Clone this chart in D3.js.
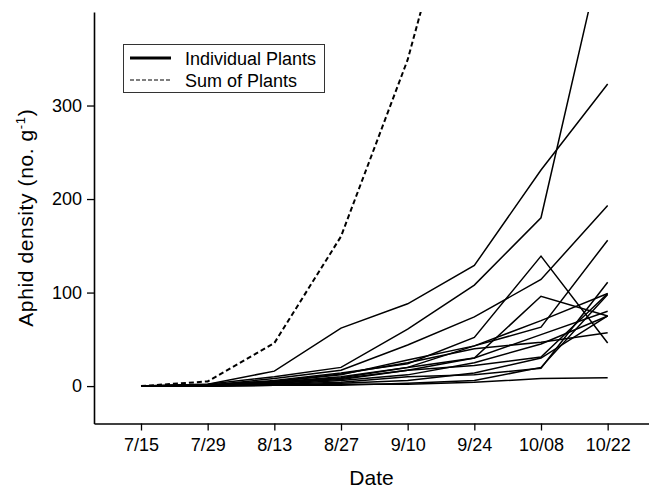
<!DOCTYPE html>
<html>
<head>
<meta charset="utf-8">
<script src="https://cdn.jsdelivr.net/npm/d3@7"></script>
<style>
  body { margin: 0; background: #fff; }
  text { font-family: "Liberation Sans", Arial, Helvetica, sans-serif; }
</style>
</head>
<body>
<div id="chart"></div>
<script>
// dates sampled
const dates = ["7/15", "7/29", "8/13", "8/27", "9/10", "9/24", "10/08", "10/22"];

// aphid density of each plant (no. per g), one array per plant
const plant01 = [0, 2, 10, 20, 61, 108, 180, 490];
const plant02 = [0, 2, 16, 62, 88, 129, 231, 323];
const plant03 = [0, 1, 8, 17, 44, 74, 114, 193];
const plant04 = [0, 1, 5, 12, 28, 43, 63, 156];
const plant05 = [0, 1, 6, 14, 24, 52, 139, 46];
const plant06 = [0, 1, 4, 9, 20, 30, 96, 75];
const plant07 = [0, 0, 2, 4, 10, 12, 19, 111];
const plant08 = [0, 1, 3, 7, 17, 22, 31, 99];
const plant09 = [0, 1, 4, 10, 20, 43, 70, 99];
const plant10 = [0, 0, 3, 8, 17, 30, 55, 80];
const plant11 = [0, 0, 2, 6, 12, 25, 45, 75];
const plant12 = [0, 1, 5, 13, 25, 40, 47, 57];
const plant13 = [0, 0, 1, 2, 2, 4, 8, 9];
const plant14 = [0, 0, 1, 1, 3, 6, 20, 98];
const plant15 = [0, 0, 1, 3, 6, 14, 30, 75];

// sum of plants (runs off the top after 9/10)
const sumOfPlants = [0, 5, 46, 160, 349, 610];

const yTicks = [0, 100, 200, 300];

const plants = [plant01, plant02, plant03, plant04, plant05, plant06, plant07, plant08,
  plant09, plant10, plant11, plant12, plant13, plant14, plant15];

const width = 649;
const height = 489;
const mLeft = 94, mRight = 649, mTop = 12, mBottom = 423.5;

const svg = d3.select("#chart")
  .append("svg")
    .attr("width", width)
    .attr("height", height);

const x = d3.scaleLinear()
  .domain([-0.705, 7.62])
  .range([mLeft, mRight]);

const y = d3.scaleLinear()
  .domain([-40, 400])
  .range([mBottom, mTop]);

svg.append("clipPath")
    .attr("id", "plotclip")
  .append("rect")
    .attr("x", mLeft)
    .attr("y", mTop)
    .attr("width", mRight - mLeft)
    .attr("height", mBottom - mTop);

const line = d3.line()
  .x((d, i) => x(i))
  .y(d => y(d));

const plot = svg.append("g").attr("clip-path", "url(#plotclip)");

// individual plants
plot.selectAll("path.plant")
  .data(plants)
  .join("path")
    .attr("class", "plant")
    .attr("d", line)
    .attr("fill", "none")
    .attr("stroke", "#000")
    .attr("stroke-width", 1.5)
    .attr("stroke-linejoin", "miter");

// sum of plants
plot.append("path")
  .datum(sumOfPlants)
    .attr("d", line)
    .attr("fill", "none")
    .attr("stroke", "#000")
    .attr("stroke-width", 2)
    .attr("stroke-dasharray", "5,3");

// axes
const xAxis = d3.axisBottom(x)
  .tickValues(d3.range(dates.length))
  .tickFormat(i => dates[i])
  .tickSizeInner(7)
  .tickSizeOuter(0)
  .tickPadding(8);

const yAxis = d3.axisLeft(y)
  .tickValues(yTicks)
  .tickSizeInner(7)
  .tickSizeOuter(0)
  .tickPadding(5);

const gx = svg.append("g")
  .attr("transform", `translate(0,${mBottom})`)
  .call(xAxis);

const gy = svg.append("g")
  .attr("transform", `translate(${mLeft},0)`)
  .call(yAxis);

[gx, gy].forEach(g => {
  g.select(".domain").attr("stroke", "#000").attr("stroke-width", 1.6);
  g.selectAll(".tick line").attr("stroke", "#000").attr("stroke-width", 1.3);
  g.selectAll(".tick text")
    .attr("fill", "#000")
    .style("font-size", "18px")
    .style("font-family", "'Liberation Sans', Arial, sans-serif");
});

// axis titles
svg.append("text")
  .attr("x", (mLeft + mRight) / 2)
  .attr("y", 485)
  .attr("text-anchor", "middle")
  .style("font-size", "21px")
  .text("Date");

const ylab = svg.append("text")
  .attr("transform", `translate(33,${(mTop + mBottom) / 2}) rotate(-90)`)
  .attr("text-anchor", "middle")
  .style("font-size", "21px")
  .style("letter-spacing", "0.6px");
ylab.append("tspan").text("Aphid density (no. g");
ylab.append("tspan").attr("dy", -8).style("font-size", "13px").text("-1");
ylab.append("tspan").attr("dy", 8).text(")");

// legend
const legend = svg.append("g");
legend.append("rect")
  .attr("x", 123.5)
  .attr("y", 44.5)
  .attr("width", 201)
  .attr("height", 48)
  .attr("fill", "#fff")
  .attr("stroke", "#333")
  .attr("stroke-width", 1);

const legendItems = [
  { label: "Individual Plants", width: 3.2, dash: null, cy: 58 },
  { label: "Sum of Plants", width: 1.2, dash: "4,2", cy: 80 }
];

legendItems.forEach(d => {
  legend.append("line")
    .attr("x1", 130).attr("x2", 171)
    .attr("y1", d.cy).attr("y2", d.cy)
    .attr("stroke", "#000")
    .attr("stroke-width", d.width)
    .attr("stroke-dasharray", d.dash);
  legend.append("text")
    .attr("x", 185)
    .attr("y", d.cy + 6.5)
    .style("font-size", "18px")
    .text(d.label);
});
</script>
</body>
</html>
